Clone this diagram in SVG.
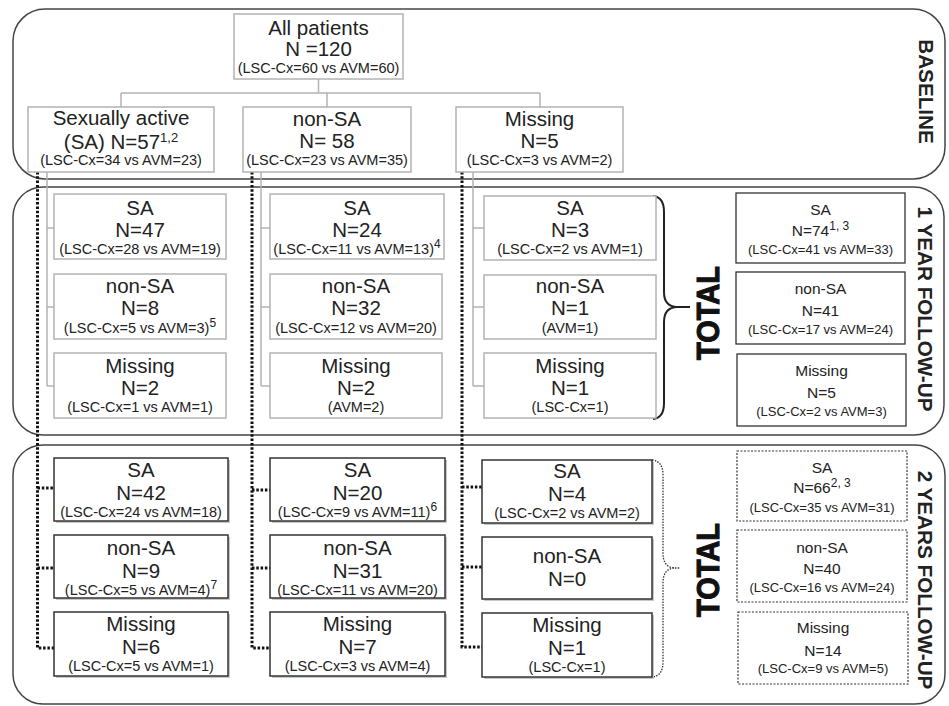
<svg xmlns="http://www.w3.org/2000/svg" width="949" height="706" viewBox="0 0 949 706">
<defs>
<style>
text{font-family:"Liberation Sans",Arial,sans-serif;fill:#222;text-anchor:middle}
.panel{fill:none;stroke:#444;stroke-width:1.5}
.gbox{fill:#fff;stroke:#b3b3b3;stroke-width:1.5}
.bbox{fill:#fff;stroke:#333;stroke-width:1.5}
.tbox{fill:#fff;stroke:#333;stroke-width:1.3}
.dbox{fill:#fff;stroke:#333;stroke-width:1.2;stroke-dasharray:2 1.5}
.shadow{fill:#c8c8c8}
.gline{fill:none;stroke:#b3b3b3;stroke-width:1.5}
.dot{fill:none;stroke:#111;stroke-width:3;stroke-dasharray:2.5 1.8}
.big{font-size:20.5px}
.sm{font-size:14.5px}
.tb{font-size:15.5px}
.ts{font-size:13px}
.sup{font-size:12px}
.bsup{font-size:13px}
.side{font-size:20.7px;font-weight:bold}
.total{font-size:29px;font-weight:bold;stroke:#111;stroke-width:1;fill:#111}
</style>
</defs>

<g id="panels">
<rect class="panel" x="13" y="9" width="932" height="170" rx="32"/>
<rect class="panel" x="13" y="187" width="931" height="248" rx="30"/>
<rect class="panel" x="13" y="445" width="932" height="259" rx="30"/>
</g>

<g id="connectors">
<path class="gline" d="M318.5 79V93M121 93H540M121 93V107M327 93V107M540 93V107"/>
<path class="gline" d="M47 172V386M47 228H54M47 307H54M47 386H54"/>
<path class="gline" d="M261 172V386M261 228H270M261 307H270M261 386H270"/>
<path class="gline" d="M473 172V386M473 228H484M473 307H484M473 386H484"/>
<path class="dot" d="M37.5 172V648H54M37.5 488H54M37.5 568H54"/>
<path class="dot" d="M252 172V648H270M252 490H270M252 568H270"/>
<path class="dot" d="M462 172V647H482M462 487H482M462 567H482"/>
<path fill="none" stroke="#222" stroke-width="2" d="M653 196Q664 197 664 212V292Q664 306 676 307H690M676 307Q664 308 664 322V403Q664 418 653 419"/>
<path fill="none" stroke="#333" stroke-width="1.3" stroke-dasharray="1.5 1.3" d="M652 460Q663 461 663 475V553Q663 567 674 568H680M674 568Q663 569 663 583V662Q663 676 652 677"/>
</g>

<g id="n-all">
<rect class="gbox" x="234" y="14" width="169" height="65"/>
<text class="big" x="318.5" y="35">All patients</text>
<text class="big" x="318.5" y="56">N =120</text>
<text class="sm" x="318.5" y="73">(LSC-Cx=60 vs AVM=60)</text>
</g>
<g id="n-base-sa">
<rect class="gbox" x="28" y="107" width="186" height="65"/>
<text class="big" x="121" y="125">Sexually active</text>
<text class="big" x="121" y="149">(SA) N=57<tspan class="bsup" dy="-7">1,2</tspan></text>
<text class="sm" x="121" y="165">(LSC-Cx=34 vs AVM=23)</text>
</g>
<g id="n-base-nonsa">
<rect class="gbox" x="243" y="107" width="168" height="65"/>
<text class="big" x="327" y="126">non-SA</text>
<text class="big" x="327" y="148">N= 58</text>
<text class="sm" x="327" y="165">(LSC-Cx=23 vs AVM=35)</text>
</g>
<g id="n-base-missing">
<rect class="gbox" x="456" y="107" width="167" height="65"/>
<text class="big" x="539.5" y="126">Missing</text>
<text class="big" x="539.5" y="148">N=5</text>
<text class="sm" x="539.5" y="165">(LSC-Cx=3 vs AVM=2)</text>
</g>

<g id="y1-c1-sa">
<rect class="gbox" x="54" y="194" width="172" height="65"/>
<text class="big" x="140" y="215">SA</text>
<text class="big" x="140" y="237">N=47</text>
<text class="sm" x="140" y="254">(LSC-Cx=28 vs AVM=19)</text>
</g>
<g id="y1-c1-nonsa">
<rect class="gbox" x="54" y="274" width="172" height="65"/>
<text class="big" x="140" y="293">non-SA</text>
<text class="big" x="140" y="315">N=8</text>
<text class="sm" x="140" y="333">(LSC-Cx=5 vs AVM=3)<tspan class="sup" dy="-6">5</tspan></text>
</g>
<g id="y1-c1-missing">
<rect class="gbox" x="54" y="353" width="172" height="65"/>
<text class="big" x="140" y="373">Missing</text>
<text class="big" x="140" y="395">N=2</text>
<text class="sm" x="140" y="412">(LSC-Cx=1 vs AVM=1)</text>
</g>

<g id="y1-c2-sa">
<rect class="gbox" x="270" y="194" width="174" height="65"/>
<text class="big" x="357" y="215">SA</text>
<text class="big" x="357" y="237">N=24</text>
<text class="sm" x="357" y="254">(LSC-Cx=11 vs AVM=13)<tspan class="sup" dy="-6">4</tspan></text>
</g>
<g id="y1-c2-nonsa">
<rect class="gbox" x="270" y="274" width="172" height="65"/>
<text class="big" x="356" y="293">non-SA</text>
<text class="big" x="356" y="315">N=32</text>
<text class="sm" x="356" y="333">(LSC-Cx=12 vs AVM=20)</text>
</g>
<g id="y1-c2-missing">
<rect class="gbox" x="270" y="353" width="172" height="65"/>
<text class="big" x="356" y="373">Missing</text>
<text class="big" x="356" y="395">N=2</text>
<text class="sm" x="356" y="412">(AVM=2)</text>
</g>

<g id="y1-c3-sa">
<rect class="gbox" x="484" y="196" width="172" height="64"/>
<text class="big" x="570" y="215">SA</text>
<text class="big" x="570" y="237">N=3</text>
<text class="sm" x="570" y="254">(LSC-Cx=2 vs AVM=1)</text>
</g>
<g id="y1-c3-nonsa">
<rect class="gbox" x="484" y="275" width="172" height="64"/>
<text class="big" x="570" y="293">non-SA</text>
<text class="big" x="570" y="315">N=1</text>
<text class="sm" x="570" y="333">(AVM=1)</text>
</g>
<g id="y1-c3-missing">
<rect class="gbox" x="484" y="353" width="172" height="65"/>
<text class="big" x="570" y="373">Missing</text>
<text class="big" x="570" y="395">N=1</text>
<text class="sm" x="570" y="412">(LSC-Cx=1)</text>
</g>

<g id="y1-total-label">
<text class="total" transform="translate(719 313) rotate(-90) scale(1 1.1)" x="0" y="0">TOTAL</text>
</g>

<g id="y1-tot-sa">
<rect class="tbox" x="736" y="193" width="169" height="70"/>
<text class="tb" x="820.5" y="215">SA</text>
<text class="tb" x="820.5" y="236">N=74<tspan class="sup" dy="-6">1, 3</tspan></text>
<text class="ts" x="820.5" y="254">(LSC-Cx=41 vs AVM=33)</text>
</g>
<g id="y1-tot-nonsa">
<rect class="tbox" x="736" y="272" width="169" height="72"/>
<text class="tb" x="820.5" y="294">non-SA</text>
<text class="tb" x="820.5" y="316">N=41</text>
<text class="ts" x="820.5" y="334">(LSC-Cx=17 vs AVM=24)</text>
</g>
<g id="y1-tot-missing">
<rect class="tbox" x="737" y="354" width="169" height="72"/>
<text class="tb" x="821.5" y="376">Missing</text>
<text class="tb" x="821.5" y="398">N=5</text>
<text class="ts" x="821.5" y="416">(LSC-Cx=2 vs AVM=3)</text>
</g>

<g id="y2-c1-sa">
<rect class="shadow" x="56" y="460" width="174" height="63"/>
<rect class="bbox" x="54" y="458" width="174" height="63"/>
<text class="big" x="141" y="477">SA</text>
<text class="big" x="141" y="500">N=42</text>
<text class="sm" x="141" y="517">(LSC-Cx=24 vs AVM=18)</text>
</g>
<g id="y2-c1-nonsa">
<rect class="shadow" x="56" y="537" width="174" height="63"/>
<rect class="bbox" x="54" y="535" width="174" height="63"/>
<text class="big" x="141" y="555">non-SA</text>
<text class="big" x="141" y="578">N=9</text>
<text class="sm" x="141" y="595">(LSC-Cx=5 vs AVM=4)<tspan class="sup" dy="-6">7</tspan></text>
</g>
<g id="y2-c1-missing">
<rect class="shadow" x="56" y="614" width="174" height="64"/>
<rect class="bbox" x="54" y="612" width="174" height="64"/>
<text class="big" x="141" y="631">Missing</text>
<text class="big" x="141" y="654">N=6</text>
<text class="sm" x="141" y="671">(LSC-Cx=5 vs AVM=1)</text>
</g>

<g id="y2-c2-sa">
<rect class="shadow" x="272" y="460" width="175" height="63"/>
<rect class="bbox" x="270" y="458" width="175" height="63"/>
<text class="big" x="357.5" y="477">SA</text>
<text class="big" x="357.5" y="500">N=20</text>
<text class="sm" x="357.5" y="517">(LSC-Cx=9 vs AVM=11)<tspan class="sup" dy="-6">6</tspan></text>
</g>
<g id="y2-c2-nonsa">
<rect class="shadow" x="272" y="537" width="175" height="63"/>
<rect class="bbox" x="270" y="535" width="175" height="63"/>
<text class="big" x="357.5" y="555">non-SA</text>
<text class="big" x="357.5" y="578">N=31</text>
<text class="sm" x="357.5" y="595">(LSC-Cx=11 vs AVM=20)</text>
</g>
<g id="y2-c2-missing">
<rect class="shadow" x="272" y="614" width="175" height="64"/>
<rect class="bbox" x="270" y="612" width="175" height="64"/>
<text class="big" x="357.5" y="631">Missing</text>
<text class="big" x="357.5" y="654">N=7</text>
<text class="sm" x="357.5" y="671">(LSC-Cx=3 vs AVM=4)</text>
</g>

<g id="y2-c3-sa">
<rect class="shadow" x="484" y="462" width="170" height="63"/>
<rect class="bbox" x="482" y="460" width="170" height="63"/>
<text class="big" x="567" y="478">SA</text>
<text class="big" x="567" y="501">N=4</text>
<text class="sm" x="567" y="518">(LSC-Cx=2 vs AVM=2)</text>
</g>
<g id="y2-c3-nonsa">
<rect class="shadow" x="484" y="539" width="170" height="62"/>
<rect class="bbox" x="482" y="537" width="170" height="62"/>
<text class="big" x="567" y="563">non-SA</text>
<text class="big" x="567" y="586">N=0</text>
</g>
<g id="y2-c3-missing">
<rect class="shadow" x="484" y="615" width="170" height="64"/>
<rect class="bbox" x="482" y="613" width="170" height="64"/>
<text class="big" x="567" y="632">Missing</text>
<text class="big" x="567" y="655">N=1</text>
<text class="sm" x="567" y="672">(LSC-Cx=1)</text>
</g>

<g id="y2-total-label">
<text class="total" transform="translate(719 570) rotate(-90) scale(1 1.1)" x="0" y="0">TOTAL</text>
</g>

<g id="y2-tot-sa">
<rect class="dbox" x="737" y="451" width="170" height="70"/>
<text class="tb" x="822" y="473">SA</text>
<text class="tb" x="822" y="493">N=66<tspan class="sup" dy="-6">2, 3</tspan></text>
<text class="ts" x="822" y="512">(LSC-Cx=35 vs AVM=31)</text>
</g>
<g id="y2-tot-nonsa">
<rect class="dbox" x="737" y="530" width="170" height="72"/>
<text class="tb" x="822" y="553">non-SA</text>
<text class="tb" x="822" y="574">N=40</text>
<text class="ts" x="822" y="592">(LSC-Cx=16 vs AVM=24)</text>
</g>
<g id="y2-tot-missing">
<rect class="dbox" x="738" y="612" width="170" height="72"/>
<text class="tb" x="823" y="633">Missing</text>
<text class="tb" x="823" y="656">N=14</text>
<text class="ts" x="823" y="673">(LSC-Cx=9 vs AVM=5)</text>
</g>

<g id="side-labels">
<text class="side" transform="translate(919 91.5) rotate(90)">BASELINE</text>
<text class="side" transform="translate(918 309) rotate(90)">1 YEAR FOLLOW-UP</text>
<text class="side" transform="translate(918 580) rotate(90)">2 YEARS FOLLOW-UP</text>
</g>
</svg>
